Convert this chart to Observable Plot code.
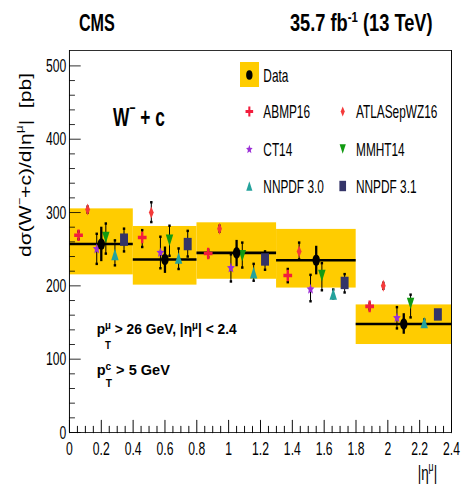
<!DOCTYPE html>
<html><head><meta charset="utf-8">
<script src="https://cdn.jsdelivr.net/npm/d3@7"></script>
<script src="https://cdn.jsdelivr.net/npm/@observablehq/plot@0.6"></script>
<style>
html,body{margin:0;padding:0;background:#fff;}
#wrap{width:461px;height:484px;overflow:hidden;position:relative;background:#fff}
#chart{position:absolute;left:0;top:0;width:720px;height:484px;transform:scaleX(0.64);transform-origin:0 0;}
#chart svg{max-width:none !important;width:720px !important;height:484px !important;display:block;}
</style></head><body><div id="wrap"><div id="chart"></div></div>
<script>
// ---------------- data ----------------
const binEdges = [0, 0.4, 0.8, 1.3, 1.8, 2.4];
const dataValue    = [257, 236, 245, 235, 148];
const dataStatLow  = [233, 217, 226, 215, 134];
const dataStatHigh = [280, 253, 262, 254, 162];
const dataTotLow   = [215, 201, 209, 197, 120];
const dataTotHigh  = [305, 281, 286, 277, 174];

const modelNames = ["ABMP16", "ATLASepWZ16", "CT14", "MMHT14", "NNPDF 3.0", "NNPDF 3.1"];
const abmpVal  = [269, 266, 244, 214, 172];
const abmpLow  = [264, 253, 239, 205, 168];
const abmpHigh = [274, 276, 249, 223, 176];
const atlasVal  = [304, 300, 278, 247, 200];
const atlasLow  = [300, 287, 274, 236, 196];
const atlasHigh = [308, 314, 282, 259, 204];
const ct14Val  = [251, 246, 225, 196, 157];
const ct14Low  = [230, 224, 206, 179, 142];
const ct14High = [271, 267, 243, 215, 171];
const mmhtVal  = [266, 262, 241, 214, 176];
const mmhtLow  = [244, 241, 225, 194, 157];
const mmhtHigh = [285, 282, 259, 231, 188];
const nn30Val  = [243, 238, 218, 189, 150];
const nn30Low  = [228, 223, 207, 183, 146];
const nn30High = [262, 251, 230, 195, 154];
const nn31Val  = [263, 257, 236, 204, 161];
const nn31Low  = [247, 240, 222, 191, 157];
const nn31High = [278, 275, 247, 216, 165];

const xDomain = [0, 2.4];
const yDomain = [0, 521];
const xTickValues = [0, 0.2, 0.4, 0.6, 0.8, 1, 1.2, 1.4, 1.6, 1.8, 2, 2.2, 2.4];
const xTickLabels = ["0", "0.2", "0.4", "0.6", "0.8", "1", "1.2", "1.4", "1.6", "1.8", "2", "2.2", "2.4"];
const yTickValues = [0, 100, 200, 300, 400, 500];
const yTickLabels = ["0", "100", "200", "300", "400", "500"];
const xMinorStep = 0.05, yMinorStep = 20;

// ---------------- layout ----------------
const W = 720, H = 484;
const FONT = "'Liberation Sans', Arial, Helvetica, sans-serif";

// custom marker shapes (r = half size)
const R = s => Math.sqrt(s / Math.PI);
const sym = {
  cross: {draw(c, s){const r=R(s), rx=1.1*r, ry=0.93*r, t=0.3*r, tv=0.3*r*0.95;
    c.moveTo(-rx,-tv); c.lineTo(-t,-tv); c.lineTo(-t,-ry); c.lineTo(t,-ry); c.lineTo(t,-tv); c.lineTo(rx,-tv);
    c.lineTo(rx,tv); c.lineTo(t,tv); c.lineTo(t,ry); c.lineTo(-t,ry); c.lineTo(-t,tv); c.lineTo(-rx,tv); c.closePath();}},
  diamond: {draw(c, s){const r=R(s), w=0.63*r; c.moveTo(0,-r); c.lineTo(w,0); c.lineTo(0,r); c.lineTo(-w,0); c.closePath();}},
  star: {draw(c, s){const r=R(s), ri=0.45*r; for(let i=0;i<10;i++){const a=-Math.PI/2+i*Math.PI/5, rr=i%2?ri:r;
    const px=rr*Math.cos(a), py=0.85*rr*Math.sin(a)+0.08*r; if(i) c.lineTo(px,py); else c.moveTo(px,py);} c.closePath();}},
  triUp: {draw(c, s){const r=R(s); c.moveTo(0,-r); c.lineTo(r,r); c.lineTo(-r,r); c.closePath();}},
  triDown: {draw(c, s){const r=R(s); c.moveTo(-r,-r); c.lineTo(r,-r); c.lineTo(0,r); c.closePath();}},
  square: {draw(c, s){const r=R(s); c.rect(-r,-r,2*r,2*r);}},
  cap: {draw(c, s){const r=R(s); c.rect(-r,-0.65*r,2*r,1.3*r);}}
};

const modelDefs = [
  {name: modelNames[0], val: abmpVal,  low: abmpLow,  high: abmpHigh,  symbol: sym.cross,   color: "#f21d3d", r: 6.2, lr: 5.4},
  {name: modelNames[1], val: atlasVal, low: atlasLow, high: atlasHigh, symbol: sym.diamond, color: "#f43a3a", r: 6.0, lr: 5.0},
  {name: modelNames[2], val: ct14Val,  low: ct14Low,  high: ct14High,  symbol: sym.star,    color: "#9b2fd6", r: 6.4, lr: 5.4},
  {name: modelNames[3], val: mmhtVal,  low: mmhtLow,  high: mmhtHigh,  symbol: sym.triDown, color: "#129a12", r: 5.8, lr: 4.8},
  {name: modelNames[4], val: nn30Val,  low: nn30Low,  high: nn30High,  symbol: sym.triUp,   color: "#24a29c", r: 5.8, lr: 4.8},
  {name: modelNames[5], val: nn31Val,  low: nn31Low,  high: nn31High,  symbol: sym.square,  color: "#343468", r: 6.2, lr: 5.2}
];

const bins = dataValue.map((v, i) => ({
  lo: binEdges[i], hi: binEdges[i+1], mid: (binEdges[i] + binEdges[i+1]) / 2,
  v, sLo: dataStatLow[i], sHi: dataStatHigh[i], tLo: dataTotLow[i], tHi: dataTotHigh[i]
}));
const preds = modelDefs.flatMap((m, j) => m.val.map((v, i) => ({
  model: m.name,
  x: binEdges[i] + (j + 1) * (binEdges[i+1] - binEdges[i]) / 7,
  v, lo: m.low[i], hi: m.high[i]
})));

const near = (a, b) => Math.abs(a - b) < 1e-6;
const xMinor = d3.range(xDomain[0], xDomain[1] + 1e-9, xMinorStep).map(v => +v.toFixed(3)).filter(v => !xTickValues.some(t => near(t, v)));
const yMinor = d3.range(yMinorStep, yTickValues[yTickValues.length-1] + 1e-9, yMinorStep).filter(v => !yTickValues.some(t => near(t, v)));
const tickShape = {draw(ctx, l){ ctx.moveTo(0, 0); ctx.lineTo(0, -l); }};

const svg = Plot.plot({
  width: W, height: H,
  marginLeft: 108, marginRight: 15, marginTop: 50, marginBottom: 52,
  x: {domain: xDomain}, y: {domain: yDomain},
  style: {fontFamily: FONT, fontSize: "19px", color: "#000", background: "transparent", overflow: "visible", maxWidth: "none"},
  marks: [
    Plot.rect(bins, {x1: "lo", x2: "hi", y1: "tLo", y2: "tHi", fill: "#ffcc00"}),
    Plot.ruleY(bins, {x1: "lo", x2: "hi", y: "v", stroke: "#000", strokeWidth: 2.6}),
    Plot.ruleX(preds, {x: "x", y1: "lo", y2: "hi", stroke: "#000", strokeWidth: 1.6}),
    Plot.dot(preds, {x: "x", y: "lo", symbol: sym.cap, r: 1.9, fill: "#000", stroke: "none"}),
    Plot.dot(preds, {x: "x", y: "hi", symbol: sym.cap, r: 1.9, fill: "#000", stroke: "none"}),
    ...modelDefs.map(m => Plot.dot(preds.filter(p => p.model === m.name),
        {x: "x", y: "v", symbol: m.symbol, r: m.r, fill: m.color, stroke: "none"})),
    Plot.ruleX(bins, {x: "mid", y1: "sLo", y2: "sHi", stroke: "#000", strokeWidth: 3.6}),
    Plot.dot(bins, {x: "mid", y: "v", r: 5.8, fill: "#000", stroke: "none"}),
    // inward ticks
    Plot.vector(xMinor, {x: d => d, y: yDomain[0], length: 6, rotate: 0, anchor: "start", shape: tickShape, stroke: "#000", strokeWidth: 1.5}),
    Plot.vector(xTickValues, {x: d => d, y: yDomain[0], length: 12, rotate: 0, anchor: "start", shape: tickShape, stroke: "#000", strokeWidth: 1.5}),
    Plot.vector(yMinor, {x: xDomain[0], y: d => d, length: 8, rotate: 90, anchor: "start", shape: tickShape, stroke: "#000", strokeWidth: 1}),
    Plot.vector(yTickValues, {x: xDomain[0], y: d => d, length: 17, rotate: 90, anchor: "start", shape: tickShape, stroke: "#000", strokeWidth: 1}),
    // frame
    Plot.ruleX(xDomain, {stroke: "#000", strokeWidth: 1.5}),
    Plot.ruleY(yDomain, {stroke: "#000", strokeWidth: 1}),
    Plot.axisX(xTickValues, {tickSize: 0, tickPadding: 9, tickFormat: (d) => xTickLabels[xTickValues.indexOf(d)], label: null, fontSize: 19}),
    Plot.axisY(yTickValues, {tickSize: 0, tickPadding: 5, tickFormat: (d) => yTickLabels[yTickValues.indexOf(d)], label: null, fontSize: 19})
  ]
});
svg.style.maxWidth = "none";
document.getElementById("chart").appendChild(svg);

// ---------------- annotations ----------------
const g = d3.select(svg).append("g").attr("font-family", FONT).attr("fill", "#000").attr("text-anchor", "start");

// parts: {t, size (ratio), shift (em, + up), dx}
function rich(x, y, parts, o) {
  const base = o.size;
  const t = g.append("text").attr("x", x).attr("y", y).attr("font-size", base)
    .attr("font-weight", o.bold ? "bold" : "normal").attr("text-anchor", o.anchor || "start")
    .style("white-space", "pre");
  if (o.transform) t.attr("transform", o.transform).attr("x", 0).attr("y", 0);
  if (o.len) t.attr("textLength", o.len).attr("lengthAdjust", "spacingAndGlyphs");
  let prev = 0;
  for (const p of parts) {
    const sh = p.shift || 0;
    const ts = t.append("tspan").text(p.t);
    if (sh !== prev) ts.attr("dy", (prev - sh) * base);
    if (p.size) ts.attr("font-size", p.size * base);
    if (p.dx) ts.attr("dx", p.dx);
    prev = sh;
  }
  return t;
}

rich(123.4, 31.5, [{t: "CMS"}], {size: 23, bold: true, len: 56});
rich(453, 31.5, [{t: "35.7 fb"}, {t: "-1", size: 0.62, shift: 0.42}, {t: " (13 TeV)", shift: 0}], {size: 23, bold: true, len: 223});

rich(0, 0, [{t: "d\u03C3(W"}, {t: "\u2212", size: 0.6, shift: 0.45}, {t: "+c)/d|\u03B7"}, {t: "\u03BC", size: 0.65, shift: 0.45}, {t: "|\u00A0\u00A0[pb]"}],
  {size: 27, anchor: "end", transform: "translate(48.4,73) rotate(-90)", len: 184});

rich(683, 480, [{t: "|\u03B7"}, {t: "\u03BC", size: 0.65, shift: 0.45}, {t: "|"}], {size: 21, anchor: "end"});

rich(176.6, 126, [{t: "W"}, {t: "\u2212", size: 0.6, shift: 0.5}, {t: " + c", shift: 0}], {size: 25, bold: true, len: 81});

rich(151, 334, [{t: "p"}, {t: "\u03BC", size: 0.7, shift: 0.35}, {t: "T", size: 0.7, shift: -1.0, dx: -6.5},
  {t: " > 26 GeV, |\u03B7", shift: 0}, {t: "\u03BC", size: 0.7, shift: 0.35}, {t: "| < 2.4", shift: 0}], {size: 15, bold: true, len: 219});
rich(151, 375, [{t: "p"}, {t: "c", size: 0.7, shift: 0.35}, {t: "T", size: 0.7, shift: -0.8, dx: -5.5},
  {t: " > 5 GeV", shift: 0}], {size: 15, bold: true, len: 114.5});

// ---------------- legend ----------------
const leg = g.append("g").attr("text-anchor", "start");
const rowY = [75, 111.5, 149, 186];
const colMarkX = [389.6, 535.5], colTextX = [411.5, 556.3];
leg.append("rect").attr("x", 375).attr("y", 62).attr("width", 29.7).attr("height", 25).attr("fill", "#ffcc00");
leg.append("ellipse").attr("cx", colMarkX[0]).attr("cy", rowY[0]).attr("rx", 5).attr("ry", 4.7).attr("fill", "#000");
leg.append("text").attr("x", colTextX[0]).attr("y", rowY[0] + 6.7).attr("font-size", 18.5).attr("text-anchor", "start").text("Data");
modelDefs.forEach((m, j) => {
  const row = 1 + Math.floor(j / 2), col = j % 2;
  leg.append("path").attr("d", d3.symbol(m.symbol, Math.PI * m.lr * m.lr)())
    .attr("transform", `translate(${colMarkX[col]},${rowY[row]})`).attr("fill", m.color);
  leg.append("text").attr("x", colTextX[col]).attr("y", rowY[row] + 6.7).attr("font-size", 18.5).attr("text-anchor", "start").text(m.name);
});
</script></body></html>
